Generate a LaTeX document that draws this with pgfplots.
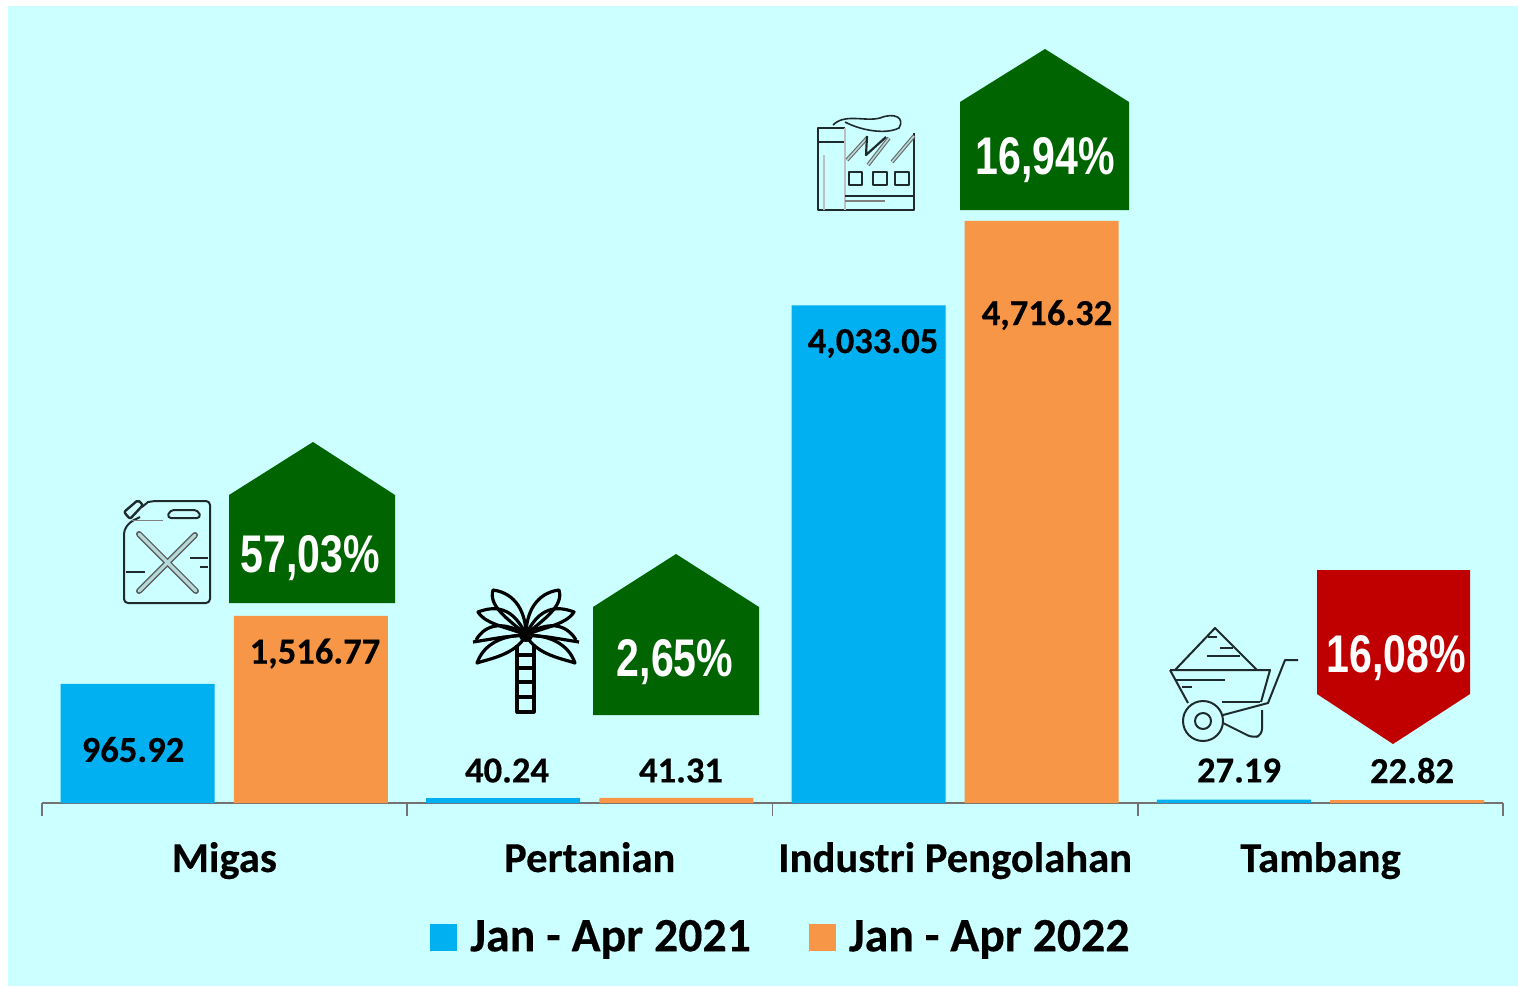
\documentclass[border=0pt]{standalone}
\usepackage{fontspec}
\setmainfont{Carlito}[BoldFeatures={FakeBold=0.35}]
\newfontfamily\pctfont{Liberation Sans}
\usepackage{pgfplots}
\pgfplotsset{compat=1.18}
\definecolor{bgc}{HTML}{CCFFFF}
\definecolor{blueb}{HTML}{00B0F0}
\definecolor{orangeb}{HTML}{F79646}
\definecolor{greenb}{HTML}{006400}
\definecolor{redb}{HTML}{C00000}
\definecolor{icon}{HTML}{1F2A2C}
\pgfplotstableread{
x a b
0 965.92 1516.77
1 40.24 41.31
2 4033.05 4716.32
3 27.19 22.82
}\datatab
\pgfplotsset{sq/.style={legend image code/.code={\path[##1] (0pt,-6.75pt) rectangle (13.5pt,6.75pt);\path (18pt,0pt) circle (0pt);}}}
\newcommand{\pct}[3]{\node[text=white,xscale=.775,font=\pctfont\fontsize{26.5}{28}\selectfont\bfseries] at (#1,#2) {#3};}
\newcommand{\val}[3]{\node[font=\fontsize{18.3}{20}\selectfont\bfseries] at (#1,#2) {#3};}
\begin{document}
\begin{tikzpicture}
\begin{scope}[x=0.5pt,y=-0.5pt]
\fill[white] (0,0) rectangle (1518,986);
\fill[bgc] (8,6) rectangle (1518,986);
\end{scope}
\begin{axis}[
 scale only axis, at={(20.8pt,-401.5pt)}, anchor=south west,
 width=730.8pt, height=350pt,
 xmin=-0.5, xmax=3.5, ymin=0, ymax=5672,
 ybar, bar width=77pt, ybar=9.6pt,
 axis y line=none, axis x line=bottom, axis line style={-,draw=gray!90!black,line width=1.1pt},
 xtick={0,1,2,3}, xticklabels={Migas,Pertanian,Industri Pengolahan,Tambang},
 major tick length=0pt,
 minor xtick={-0.5,0.5,1.5,2.5,3.5},
 minor tick length=6.5pt,
 tick align=outside,
 minor tick style={draw=gray!90!black,line width=.9pt},
 xticklabel style={font=\fontsize{21.3}{23}\selectfont\bfseries, yshift=-16pt},
 clip=false,
 legend style={at={(0.5065,-0.1915)},anchor=center,draw=none,fill=none,legend columns=2,
   font=\fontsize{23.9}{25}\selectfont\bfseries,
   /tikz/every even column/.append style={column sep=27pt}},
 legend cell align=left,
]
\addplot[fill=blueb,draw=none,sq] table[x=x,y=a] {\datatab};
\addlegendentry{Jan - Apr 2021}
\addplot[fill=orangeb,draw=none,sq] table[x=x,y=b] {\datatab};
\addlegendentry{Jan - Apr 2022}
\end{axis}
\begin{scope}[x=0.5pt,y=-0.5pt]
% arrows
\fill[greenb] (229,603)--(229,495)--(313,442)--(395,495)--(395,603)--cycle;
\fill[greenb] (593,715)--(593,607)--(676,554)--(759,607)--(759,715)--cycle;
\fill[greenb] (960,210)--(960,102)--(1045,49)--(1129,102)--(1129,210)--cycle;
\fill[redb] (1317,570)--(1470,570)--(1470,694)--(1393,744)--(1317,694)--cycle;
\pct{310}{558}{57,03\%}
\pct{675}{662}{2,65\%}
\pct{1045}{160}{16,94\%}
\pct{1396}{658}{16,08\%}
% values
\val{133}{749.5}{965.92}
\val{315}{653.5}{1,516.77}
\val{507}{770.5}{40.24}
\val{681}{770.5}{41.31}
\val{873}{343.5}{4,033.05}
\val{1047}{315}{4,716.32}
\val{1239}{770.5}{27.19}
\val{1412}{770.5}{22.82}
% jerry can
\begin{scope}[draw=icon,line width=1pt,line join=round]
\draw[rounded corners=2pt] (155,501)--(210,501)--(210,603)--(124,603)--(124,530)--(130,522)--(140,517);
\draw (142,507)--(148,502)--(155,501);
\draw[line width=1.2pt,rounded corners=1pt] (124,512)--(138,500)--(143,505)--(130,519)--cycle;
\draw[rounded corners=2pt] (170,510)--(198,510)--(201,518)--(167,518)--cycle;
\draw[gray,line width=.5pt] (132,520)--(163,520);
\draw[gray!70!black,line width=3pt,line cap=round] (139,534)--(196,591) (195,535)--(139,591);
\draw[bgc!70!gray,line width=1.6pt,line cap=round] (139,534)--(196,591) (195,535)--(139,591);
\draw (126,572)--(145,572) (190,558)--(208,558) (200,567)--(208,567);
\draw[line width=1.4pt] (128,603)--(206,603);
\end{scope}
% palm
\begin{scope}[draw=black,line width=1.6pt,line join=round]
\draw (517,645)--(517,712)--(534,712)--(534,645);
\draw (517,655)--(534,655) (517,668)--(534,668) (517,682)--(534,682) (517,697)--(534,697);
\foreach \s in {1,-1}{
 \begin{scope}[shift={(526,635)},xscale=\s]
 \draw (0,0) .. controls (0,-22) and (-10,-42) .. (-33,-45) .. controls (-38,-28) and (-16,-15) .. (0,0);
 \draw (0,0) .. controls (-10,-22) and (-25,-32) .. (-48,-23) .. controls (-40,-10) and (-15,-7) .. (0,0);
 \draw (0,0) .. controls (-21,-14) and (-40,-12) .. (-50,5);
 \draw (-53,7)--(-22,2)--(0,0);
 \draw (0,0) .. controls (-22,0) and (-42,8) .. (-49,28) .. controls (-38,24) and (-10,20) .. (0,0);
 \end{scope}}
\fill[black] (526,635) circle (7);
\end{scope}
% factory
\begin{scope}[draw=icon,line width=1pt,line join=round]
\draw[line width=1.2pt] (914,133)--(914,210)--(818,210)--(818,128)--(845,128);
\draw[line width=1.2pt] (818,142)--(845,142);
\draw[gray!50,line width=1pt] (845,128)--(845,210) (824,155)--(824,210);
\draw[gray!80!black,line width=1.9pt] (847,160)--(867,138) (868,165)--(889,138) (892,162)--(914,136);
\draw[bgc!70!gray,line width=.8pt] (847,160)--(867,138) (868,165)--(889,138) (892,162)--(914,136);
\draw[line width=1.1pt] (867,136)--(866,155)--(886,137);
\draw (849,172) rectangle (862,185) (873,172) rectangle (887,185) (895,172) rectangle (909,185);
\draw (845,196)--(914,196);
\draw[gray,line width=.8pt] (845,201)--(885,201);
\draw[line width=.8pt] (833,125) .. controls (845,113) and (865,122) .. (880,118) .. controls (895,112) and (905,118) .. (899,128) .. controls (885,135) and (860,130) .. (845,122);
\end{scope}
% wheelbarrow
\begin{scope}[draw=icon,line width=1pt,line join=round]
\draw (1175,670)--(1215,628)--(1257,670);
\draw (1170,670)--(1270,670)--(1261,702);
\draw (1170,670)--(1188,703);
\draw (1203,721) circle (20) (1203,721) circle (8);
\draw (1223,715)--(1268,703)--(1285,660)--(1298,660);
\draw[rounded corners=3pt] (1223,723)--(1253,738)--(1262,735)--(1262,710);
\draw (1220,648)--(1233,648) (1207,656)--(1240,656) (1208,637)--(1217,637) (1175,680)--(1225,680) (1182,687)--(1192,687) (1222,702)--(1260,702);
\end{scope}
\end{scope}
\end{tikzpicture}
\end{document}
